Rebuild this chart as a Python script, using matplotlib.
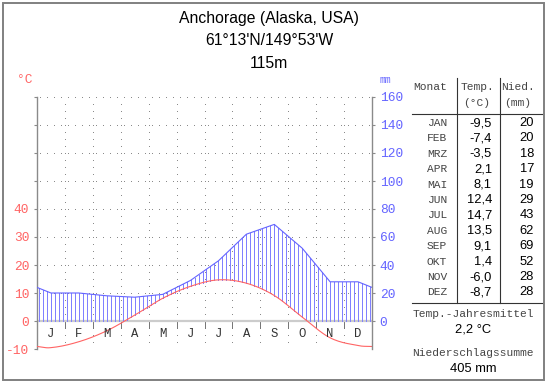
import numpy as np
import matplotlib
matplotlib.use("Agg")
import matplotlib.pyplot as plt
from matplotlib.patches import Rectangle
from matplotlib.lines import Line2D

# ---------------- data ----------------
title_lines = ["Anchorage (Alaska, USA)", "61°13'N/149°53'W", "115m"]
month_letters = ["J", "F", "M", "A", "M", "J", "J", "A", "S", "O", "N", "D"]
month_names = ["JAN", "FEB", "MRZ", "APR", "MAI", "JUN", "JUL", "AUG", "SEP", "OKT", "NOV", "DEZ"]
temps = [-9.5, -7.4, -3.5, 2.1, 8.1, 12.4, 14.7, 13.5, 9.1, 1.4, -6.0, -8.7]
precip = [20, 20, 18, 17, 19, 29, 43, 62, 69, 52, 28, 28]
temp_labels = ["-9,5", "-7,4", "-3,5", "2,1", "8,1", "12,4", "14,7", "13,5", "9,1", "1,4", "-6,0", "-8,7"]
annual_mean = "2,2 °C"
annual_sum = "405 mm"
right_ticks = [0, 20, 40, 60, 80, 100, 120, 140, 160]

W, H = 550, 384
RED = "#ff6464"
BLUE = "#6464ff"
HATCH = "#8080ff"
GRID = "#8a8a8a"
MONO = "Liberation Mono"
SANS = "Liberation Sans"

fig = plt.figure(figsize=(W / 100, H / 100), dpi=100)
fig.patch.set_facecolor("white")

def fx(x):
    return x / W

def fy(y):
    return 1 - y / H

L, R, T, B = 37, 372, 97, 349
ax = fig.add_axes([fx(L), fy(B), (R - L) / W, (B - T) / H])
ax.set_xlim(0, 12)
ax.set_ylim(-20, 160)
ax.set_facecolor("white")
ax.patch.set_alpha(0)

dots = (0, (1, 6))
for yv in range(-20, 161, 20):
    if yv == 0:
        continue
    ax.plot([0.1, 11.95], [yv, yv], color=GRID, lw=0.72, linestyle=dots, zorder=1,
            antialiased=False)
for m in range(1, 12):
    ax.plot([m, m], [-20, 160], color=GRID, lw=0.72, linestyle=dots, zorder=1,
            antialiased=False)
    ax.plot([m, m], [-1, -5], color="#777777", lw=0.72, zorder=1, antialiased=False)
ax.plot([0, 12], [0, 0], color="#cccccc", lw=1.6, zorder=2, solid_capstyle="butt")

px = np.concatenate([[0], np.arange(12) + 0.5, [12]])
p_edge = (precip[11] + precip[0]) / 2
py = np.concatenate([[p_edge], precip, [p_edge]])
t_edge = (temps[11] + temps[0]) / 2
ty = 2 * np.concatenate([[t_edge], temps, [t_edge]])

def catmull(xs, ys, n=20):
    xs = np.asarray(xs, float)
    ys = np.asarray(ys, float)
    xe = np.concatenate([[2 * xs[0] - xs[1]], xs, [2 * xs[-1] - xs[-2]]])
    ye = np.concatenate([[2 * ys[0] - ys[1]], ys, [2 * ys[-1] - ys[-2]]])
    ox, oy = [], []
    for i in range(1, len(xe) - 2):
        t = np.linspace(0, 1, n, endpoint=False)
        p0, p1, p2, p3 = ye[i - 1], ye[i], ye[i + 1], ye[i + 2]
        yy = 0.5 * ((2 * p1) + (-p0 + p2) * t + (2 * p0 - 5 * p1 + 4 * p2 - p3) * t ** 2
                    + (-p0 + 3 * p1 - 3 * p2 + p3) * t ** 3)
        xx = xe[i] + (xe[i + 1] - xe[i]) * t
        ox.extend(xx)
        oy.extend(yy)
    ox.append(xs[-1])
    oy.append(ys[-1])
    return np.array(ox), np.array(oy)

tcx, tcy = catmull(px, ty)

hx = (np.arange(84) + 0.5) / 7
for x in hx:
    top = np.interp(x, px, py)
    bot = max(np.interp(x, tcx, tcy), 0)
    if top > bot:
        ax.plot([x, x], [bot, top], color=HATCH, lw=0.72, zorder=3,
                antialiased=False, solid_capstyle="butt")

ax.plot(px, py, color=BLUE, lw=0.8, zorder=4)
ax.plot(tcx, tcy, color=RED, lw=0.8, zorder=4)

for i, lab in enumerate(month_letters):
    ax.text(i + 0.5, -9.3, lab, ha="center", va="center", fontsize=8.8,
            family=MONO, color="#333333", zorder=5)

for s in ["top", "bottom"]:
    ax.spines[s].set_visible(False)
ax.spines["left"].set_color(GRID)
ax.spines["left"].set_linewidth(1.0)
ax.spines["right"].set_visible(False)
ax.set_xticks([])
ax.set_yticks(range(-20, 161, 20))
ax.set_yticklabels([str(v // 2) if v <= 80 else "" for v in range(-20, 161, 20)])
ax.tick_params(axis="y", direction="out", length=2.5, width=0.8, color=GRID,
               labelcolor=RED, labelsize=9.3, pad=3)
for lab in ax.get_yticklabels():
    lab.set_family(MONO)

ax2 = ax.twinx()
ax2.set_ylim(-20, 160)
ax2.set_xlim(0, 12)
for s in ["top", "bottom", "left"]:
    ax2.spines[s].set_visible(False)
ax2.spines["right"].set_color(GRID)
ax2.spines["right"].set_linewidth(1.0)
ax2.set_yticks(right_ticks)
ax2.set_yticklabels([str(v) for v in right_ticks])
ax2.tick_params(axis="y", direction="out", length=2.5, width=0.8, color=GRID,
                labelcolor=BLUE, labelsize=9.3, pad=3)
for lab in ax2.get_yticklabels():
    lab.set_family(MONO)

fig.text(fx(25), fy(80), "°C", ha="center", va="center", fontsize=9.3, family=MONO, color=RED)
fig.text(fx(385), fy(80), "mm", ha="center", va="center", fontsize=7, family=MONO, color=BLUE)

for i, line in enumerate(title_lines):
    fig.text(fx(269), fy(18 + 22.5 * i), line, ha="center", va="center",
             fontsize=11.3, family=SANS, color="black")

lc = "#333333"
fig.add_artist(Line2D([fx(457), fx(457)], [fy(78), fy(303)], color=lc, lw=0.8))
fig.add_artist(Line2D([fx(500), fx(500)], [fy(78), fy(303)], color=lc, lw=0.8))
fig.add_artist(Line2D([fx(412), fx(542)], [fy(114), fy(114)], color=lc, lw=0.8))
fig.add_artist(Line2D([fx(412), fx(542)], [fy(303), fy(303)], color=lc, lw=0.8))
hdr_col = "#444444"
MS = 8.1
fig.text(fx(430), fy(87), "Monat", ha="center", va="center", fontsize=MS, family=MONO, color=hdr_col)
fig.text(fx(477), fy(87), "Temp.", ha="center", va="center", fontsize=MS, family=MONO, color=hdr_col)
fig.text(fx(477), fy(103), "(°C)", ha="center", va="center", fontsize=MS, family=MONO, color=hdr_col)
fig.text(fx(518), fy(87), "Nied.", ha="center", va="center", fontsize=MS, family=MONO, color=hdr_col)
fig.text(fx(518), fy(103), "(mm)", ha="center", va="center", fontsize=MS, family=MONO, color=hdr_col)
for i in range(12):
    y = 123 + 15.4 * i
    fig.text(fx(437), fy(y), month_names[i], ha="center", va="center", fontsize=MS,
             family=MONO, color=hdr_col)
    fig.text(fx(492), fy(y), temp_labels[i], ha="right", va="center", fontsize=9.3,
             family=SANS, color="black")
    fig.text(fx(534), fy(y), str(precip[i]), ha="right", va="center", fontsize=9.3,
             family=SANS, color="black")
fig.text(fx(473), fy(314), "Temp.-Jahresmittel", ha="center", va="center", fontsize=MS,
         family=MONO, color=hdr_col)
fig.text(fx(473), fy(330), annual_mean, ha="center", va="center", fontsize=9.3,
         family=SANS, color="black")
fig.text(fx(473), fy(353), "Niederschlagssumme", ha="center", va="center", fontsize=MS,
         family=MONO, color=hdr_col)
fig.text(fx(473), fy(369), annual_sum, ha="center", va="center", fontsize=9.3,
         family=SANS, color="black")

fig.add_artist(Rectangle((fx(3), fy(380)), (544 - 3) / W, (380 - 3) / H, transform=fig.transFigure,
                         fill=False, edgecolor="#808080", lw=1.4))

fig.savefig("out.png", dpi=100, facecolor="white")
